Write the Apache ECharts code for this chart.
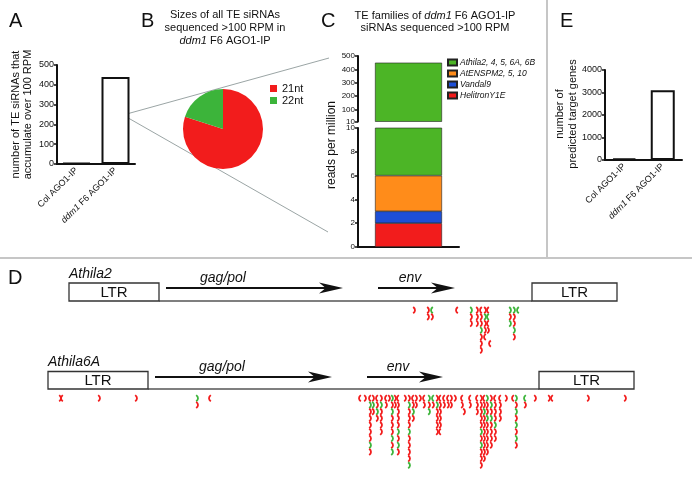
<!DOCTYPE html>
<html><head><meta charset="utf-8">
<script src="https://cdn.jsdelivr.net/npm/echarts@6/dist/echarts.min.js"></script>
<style>html,body{margin:0;padding:0;background:#fff}#c{width:692px;height:479px}</style>
</head><body><div id="c"></div>
<script>
// ---------- Panel A ----------
const ipCategories = ['Col AGO1-IP', 'ddm1 F6 AGO1-IP'];
const teSiRnaCounts = [5, 439];
// ---------- Panel B ----------
const sizeClasses = ['21nt', '22nt'];
const sizeShares = [80, 20];
// ---------- Panel C ----------
const teFamilies = ['Athila2, 4, 5, 6A, 6B', 'AtENSPM2, 5, 10', 'Vandal9', 'HelitronY1E'];
const familyRpm = [444, 3, 1, 2];
const cUpperTicks = [10, 100, 200, 300, 400, 500];
// ---------- Panel E ----------
const targetGeneCounts = [70, 3100];
// ---------- Panel D (positions in kb, reads: one string per column, one char per stacked read;
// R/G = red/green read pointing right, r/g = pointing left, '.' = empty row) ----------
const athila2Ltr = [[1.38, 3.18], [10.64, 12.34]];
const athila2Orf = [[3.32, 6.86, 4.46], [7.56, 9.10, 8.20]];
const athila2OrfNames = ['gag/pol', 'env'];
const athila2Reads = [
  [8.28,'R'],[8.56,'RR'],[8.64,'gR'],[9.14,'r'],[9.42,'GRR'],[9.54,'RRR'],
  [9.62,'rRRGRRR'],[9.70,'RGRRr'],[9.76,'rgrR'],[9.80,'.....r'],
  [10.20,'GRG'],[10.28,'GRRGR'],[10.36,'g']
];
const athila6aLtr = [[0.96, 2.96], [10.78, 12.68]];
const athila6aOrf = [[3.10, 6.64, 4.44], [7.34, 8.86, 7.96]];
const athila6aOrfNames = ['gag/pol', 'env'];
const athila6aReads = [
  [1.20,'R'],[1.24,'r'],[1.98,'R'],[2.72,'R'],[3.94,'GR'],[4.20,'r'],
  [7.20,'r'],[7.30,'R'],[7.40,'rGRRRRRGR'],[7.46,'RGR'],[7.54,'rRGR'],[7.62,'RGRRRR'],
  [7.72,'rR'],[7.78,'R'],[7.84,'GRGRRRGRG'],[7.90,'RR'],[7.96,'rRRRRGRGR'],[8.10,'R'],
  [8.18,'RGRRRGRRRRG'],[8.26,'rRGR'],[8.32,'RR'],[8.40,'R'],[8.48,'rR'],[8.58,'GRG'],
  [8.66,'gR'],[8.74,'RGRRRR'],[8.80,'rRRRRr'],[8.88,'rR'],[8.96,'rR'],[9.02,'RR'],
  [9.10,'R'],[9.24,'rR'],[9.28,'..R'],[9.40,'rR'],[9.54,'rRR'],[9.62,'RRRRRGRGRRR'],
  [9.68,'rRGRRRRRRR'],[9.74,'GRRGRRRRR'],[9.82,'RGRGRRRR'],[9.90,'rRRRGRR'],[10.00,'rRRR'],
  [10.12,'R'],[10.26,'r'],[10.32,'GRGRGRGR'],[10.50,'gR'],[10.70,'R'],[10.98,'R'],
  [11.04,'r'],[11.76,'R'],[12.50,'R']
];

const FONT = '"Liberation Sans", Arial, Helvetica, sans-serif';
const INK = '#111';
const RED = '#f21c1c', GREEN = '#3cb43a';
const famColors = ['#4cb526', '#ff8c1a', '#1d4fd6', '#f21c1c'];

function expandReads(cols) {
  const out = [];
  cols.forEach(([x, s]) => {
    for (let k = 0; k < s.length; k++) {
      const ch = s[k];
      if (ch === '.') continue;
      out.push([x, k + 1, ch.toUpperCase() === 'G' ? 1 : 0, ch === ch.toUpperCase() ? 1 : -1]);
    }
  });
  return out;
}
function italicCat(v) { return v.replace(/^ddm1/, '{i|ddm1}'); }
const plain = v => String(v);

const chart = echarts.init(document.getElementById('c'));

function trackSeries(gi, ltr, orf, orfNames, reads, L) {
  return [
    { type: 'custom', xAxisIndex: gi, yAxisIndex: gi, silent: true, z: 3,
      data: [[ltr[0][1], ltr[1][0]]],
      renderItem: (p, api) => {
        const a = api.coord([api.value(0), L.boxBottom]), b = api.coord([api.value(1), L.boxBottom]);
        return { type: 'line', shape: { x1: a[0], y1: a[1], x2: b[0], y2: b[1] }, style: { stroke: '#555', lineWidth: 1.5 } };
      } },
    { type: 'custom', xAxisIndex: gi, yAxisIndex: gi, silent: true, z: 4,
      data: ltr,
      renderItem: (p, api) => {
        const a = api.coord([api.value(0), L.boxTop]), b = api.coord([api.value(1), L.boxBottom]);
        return { type: 'group', children: [
          { type: 'rect', shape: { x: a[0], y: a[1], width: b[0] - a[0], height: b[1] - a[1] }, style: { fill: '#fff', stroke: '#333', lineWidth: 1.3 } },
          { type: 'text', style: { x: (a[0] + b[0]) / 2, y: (a[1] + b[1]) / 2 + 1, text: 'LTR', font: '15px ' + FONT, fill: INK, align: 'center', verticalAlign: 'middle' } }
        ] };
      } },
    { type: 'custom', xAxisIndex: gi, yAxisIndex: gi, silent: true, z: 4,
      data: orf,
      renderItem: (p, api) => {
        const a = api.coord([api.value(0), L.arrowRow]), b = api.coord([api.value(1), L.arrowRow]);
        const t = api.coord([api.value(2), L.labelRow]);
        const HL = 24, HH = 5.5, y = a[1];
        return { type: 'group', children: [
          { type: 'line', shape: { x1: a[0], y1: y, x2: b[0] - HL * 0.7, y2: y }, style: { stroke: INK, lineWidth: 2.2 } },
          { type: 'polygon', shape: { points: [[b[0], y], [b[0] - HL, y - HH], [b[0] - HL * 0.72, y], [b[0] - HL, y + HH]] }, style: { fill: INK } },
          { type: 'text', style: { x: t[0], y: t[1], text: orfNames[p.dataIndex], font: 'italic 14px ' + FONT, fill: INK, align: 'center', verticalAlign: 'middle' } }
        ] };
      } },
    { type: 'custom', xAxisIndex: gi, yAxisIndex: gi, silent: true, z: 5,
      data: expandReads(reads),
      renderItem: (p, api) => {
        const c = api.coord([api.value(0), api.value(1)]);
        const d = api.value(3), col = api.value(2) === 1 ? GREEN : RED, h = 3.1;
        return { type: 'bezierCurve', shape: { x1: c[0] - d * 0.8, y1: c[1] - h, x2: c[0] - d * 0.8, y2: c[1] + h, cpx1: c[0] + d * 2.8, cpy1: c[1] }, style: { stroke: col, lineWidth: 1.8, fill: null } };
      } }
  ];
}

const L1 = { boxTop: -3.06, boxBottom: -0.37, arrowRow: -2.31, labelRow: -3.8 };
const L2 = { boxTop: -2.99, boxBottom: -0.38, arrowRow: -2.17, labelRow: -3.66 };

const axisLineStyle = { color: INK, width: 2 };
const tickStyle = { color: INK, width: 1.5 };

const barStackSeries = (gi, stack) => teFamilies.map((n, i) => ({
  name: n, type: 'bar', xAxisIndex: gi, yAxisIndex: gi, stack: stack, barWidth: 67, silent: true,
  data: [familyRpm[i]], itemStyle: { color: famColors[i], borderColor: '#222', borderWidth: 0.6 }
})).reverse();

const titleStyle = (size, extra) => Object.assign({ fontSize: size, fontWeight: 'normal', color: INK, fontFamily: FONT }, extra || {});

const option = {
  animation: false,
  backgroundColor: '#fff',
  textStyle: { fontFamily: FONT, color: INK },
  title: [
    { text: 'A', left: 9, top: 11, padding: 0, textStyle: titleStyle(20) },
    { text: 'B', left: 141, top: 11, padding: 0, textStyle: titleStyle(20) },
    { text: 'C', left: 321, top: 11, padding: 0, textStyle: titleStyle(20) },
    { text: 'D', left: 8, top: 268, padding: 0, textStyle: titleStyle(20) },
    { text: 'E', left: 560, top: 11, padding: 0, textStyle: titleStyle(20) },
    { text: 'Sizes of all TE siRNAs\nsequenced >100 RPM in\n{i|ddm1} F6 AGO1-IP', left: 225, top: 9, padding: 0, textAlign: 'center',
      textStyle: titleStyle(11, { lineHeight: 12.7, rich: { i: { fontStyle: 'italic', fontSize: 11, color: INK, fontFamily: FONT } } }) },
    { text: 'TE families of {i|ddm1} F6 AGO1-IP\nsiRNAs sequenced >100 RPM', left: 435, top: 10, padding: 0, textAlign: 'center',
      textStyle: titleStyle(11, { lineHeight: 12, rich: { i: { fontStyle: 'italic', fontSize: 11, color: INK, fontFamily: FONT } } }) },
    { text: 'Athila2', left: 69, top: 267, padding: 0, textStyle: titleStyle(14, { fontStyle: 'italic' }) },
    { text: 'Athila6A', left: 48, top: 355, padding: 0, textStyle: titleStyle(14, { fontStyle: 'italic' }) }
  ],
  legend: [
    { data: sizeClasses, orient: 'vertical', left: 270, top: 83, padding: 0, itemWidth: 7, itemHeight: 7, itemGap: 1,
      icon: 'rect', selectedMode: false, textStyle: { fontSize: 11, color: INK } },
    { data: teFamilies, orient: 'vertical', left: 447, top: 58, padding: 0, itemWidth: 9, itemHeight: 6, itemGap: 2,
      icon: 'rect', selectedMode: false, textStyle: { fontSize: 8.5, fontStyle: 'italic', color: INK, padding: [0, 0, 0, -2] } }
  ],
  grid: [
    { left: 57, top: 65, width: 78, height: 99, outerBoundsMode: 'none' },
    { left: 358, top: 56, width: 101, height: 65.5, outerBoundsMode: 'none' },
    { left: 358, top: 128, width: 101, height: 119, outerBoundsMode: 'none' },
    { left: 605, top: 70, width: 77, height: 90, outerBoundsMode: 'none' },
    { left: 0, top: 270, width: 692, height: 87, outerBoundsMode: 'none' },
    { left: 0, top: 358, width: 692, height: 114, outerBoundsMode: 'none' }
  ],
  xAxis: [
    { gridIndex: 0, type: 'category', data: ipCategories, axisLine: { lineStyle: axisLineStyle },
      axisTick: { alignWithLabel: true, length: 3, lineStyle: tickStyle },
      axisLabel: { rotate: 45, interval: 0, fontSize: 9, color: INK, margin: 5, formatter: italicCat,
        rich: { i: { fontStyle: 'italic', fontSize: 9, color: INK } } } },
    { gridIndex: 1, type: 'category', data: ['ddm1 F6 AGO1-IP'], show: false },
    { gridIndex: 2, type: 'category', data: ['ddm1 F6 AGO1-IP'], axisLine: { lineStyle: axisLineStyle },
      axisTick: { show: false }, axisLabel: { show: false } },
    { gridIndex: 3, type: 'category', data: ipCategories, axisLine: { lineStyle: axisLineStyle },
      axisTick: { alignWithLabel: true, length: 3, lineStyle: tickStyle },
      axisLabel: { rotate: 45, interval: 0, fontSize: 9, color: INK, margin: 5, formatter: italicCat,
        rich: { i: { fontStyle: 'italic', fontSize: 9, color: INK } } } },
    { gridIndex: 4, type: 'value', min: 0, max: 13.84, show: false },
    { gridIndex: 5, type: 'value', min: 0, max: 13.84, show: false }
  ],
  yAxis: [
    { gridIndex: 0, type: 'value', min: 0, max: 500, interval: 100, splitLine: { show: false },
      axisLine: { show: true, lineStyle: axisLineStyle }, axisTick: { show: true, length: 3, lineStyle: tickStyle },
      axisLabel: { fontSize: 9, color: INK, margin: 3, formatter: plain },
      name: 'number of TE siRNAs that\naccumulate over 100 RPM', nameLocation: 'middle', nameRotate: 90, nameGap: 23,
      nameTextStyle: { fontSize: 11, color: INK, lineHeight: 12 } },
    { gridIndex: 1, type: 'value', min: 10, max: 500, splitLine: { show: false },
      axisLine: { show: true, lineStyle: axisLineStyle },
      axisTick: { show: true, length: 3, lineStyle: tickStyle, customValues: cUpperTicks },
      axisLabel: { fontSize: 8, color: INK, margin: 3, customValues: cUpperTicks, formatter: plain } },
    { gridIndex: 2, type: 'value', min: 0, max: 10, interval: 2, splitLine: { show: false },
      axisLine: { show: true, lineStyle: axisLineStyle }, axisTick: { show: true, length: 3, lineStyle: tickStyle },
      axisLabel: { fontSize: 8, color: INK, margin: 3, formatter: plain } },
    { gridIndex: 3, type: 'value', min: 0, max: 4000, interval: 1000, splitLine: { show: false },
      axisLine: { show: true, lineStyle: axisLineStyle }, axisTick: { show: true, length: 3, lineStyle: tickStyle },
      axisLabel: { fontSize: 9, color: INK, margin: 3, formatter: plain } },
    { gridIndex: 4, type: 'value', min: -5, max: 8, inverse: true, show: false },
    { gridIndex: 5, type: 'value', min: -5, max: 12, inverse: true, show: false }
  ],
  graphic: [
    { type: 'line', z: 0, shape: { x1: 0, y1: 258, x2: 692, y2: 258 }, style: { stroke: '#c6c6c6', lineWidth: 2 } },
    { type: 'line', z: 0, shape: { x1: 547, y1: 0, x2: 547, y2: 258 }, style: { stroke: '#c6c6c6', lineWidth: 2 } },
    { type: 'line', z: 0, shape: { x1: 123, y1: 115, x2: 329, y2: 58 }, style: { stroke: '#9ba5a5', lineWidth: 1 } },
    { type: 'line', z: 0, shape: { x1: 123, y1: 115, x2: 328, y2: 232 }, style: { stroke: '#9ba5a5', lineWidth: 1 } },
    { type: 'text', x: 332, y: 145, rotation: Math.PI / 2,
      style: { text: 'reads per million', font: '12px ' + FONT, fill: INK, align: 'center', verticalAlign: 'middle' } },
    { type: 'text', x: 566, y: 114, rotation: Math.PI / 2,
      style: { text: 'number of\npredicted target genes', font: '11px ' + FONT, lineHeight: 13, fill: INK, align: 'center', verticalAlign: 'middle' } }
  ],
  series: [
    { type: 'bar', xAxisIndex: 0, yAxisIndex: 0, data: teSiRnaCounts, barWidth: 28, silent: true,
      itemStyle: { color: '#fff', borderColor: INK, borderWidth: 2 } },
    { type: 'pie', center: [223, 129], radius: 40, startAngle: 90, clockwise: true, silent: true, z: 3,
      label: { show: false }, labelLine: { show: false },
      data: sizeClasses.map((n, i) => ({ name: n, value: sizeShares[i], itemStyle: { color: i === 0 ? RED : GREEN, borderWidth: 0 } })) },
    ...barStackSeries(2, 'lower'),
    ...barStackSeries(1, 'upper'),
    { type: 'bar', xAxisIndex: 3, yAxisIndex: 3, data: targetGeneCounts, barWidth: 24, silent: true,
      itemStyle: { color: '#fff', borderColor: INK, borderWidth: 2 } },
    ...trackSeries(4, athila2Ltr, athila2Orf, athila2OrfNames, athila2Reads, L1),
    ...trackSeries(5, athila6aLtr, athila6aOrf, athila6aOrfNames, athila6aReads, L2)
  ]
};
chart.setOption(option);
</script>
</body></html>
